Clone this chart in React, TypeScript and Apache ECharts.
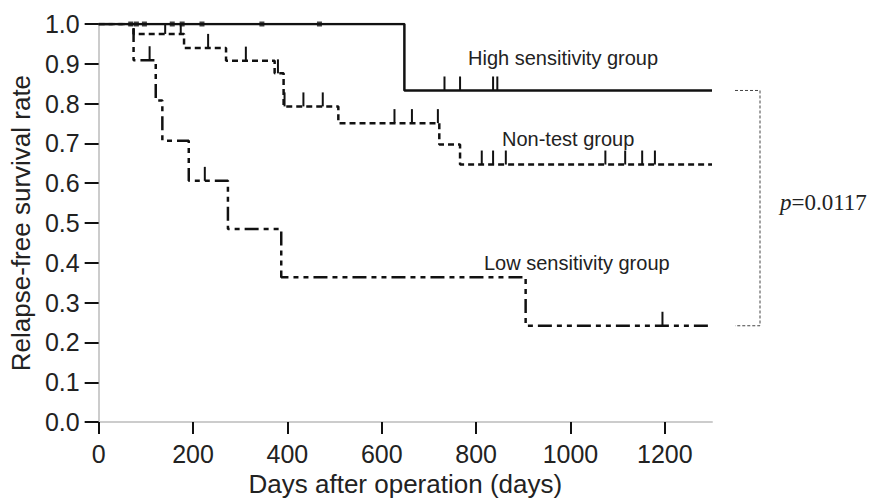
import React, { useEffect, useRef } from "react";
import * as echarts from "echarts";

// ---- data ----
const xTicks = [0, 200, 400, 600, 800, 1000, 1200];
const yTicks = [0, 0.1, 0.2, 0.3, 0.4, 0.5, 0.6, 0.7, 0.8, 0.9, 1.0];

const highTimes = [0, 648, 1300];
const highValues = [1.0, 0.833, 0.833];
const highCensor = [733, 766, 836, 845];
const highCensorTop = [68, 80, 97, 156, 177, 219, 346, 468];

const nonTimes = [0, 74, 181, 270, 373, 392, 508, 722, 766, 1300];
const nonValues = [1.0, 0.975, 0.94, 0.908, 0.876, 0.793, 0.751, 0.697, 0.647, 0.647];
const nonCensor = [141, 174, 232, 312, 380, 394, 434, 475, 627, 664, 719, 812, 836, 863, 1074, 1116, 1152, 1179];

const lowTimes = [0, 74, 121, 135, 191, 274, 387, 905, 1300];
const lowValues = [1.0, 0.909, 0.808, 0.707, 0.606, 0.485, 0.364, 0.242, 0.242];
const lowCensor = [108, 225, 1195];

const groupLabels = ["High sensitivity group", "Non-test group", "Low sensitivity group"];
const pValueText = "0.0117";

const FONT = "'Liberation Sans', Arial, sans-serif";
const SERIF = "'Liberation Serif', 'Times New Roman', serif";
const INK = "#111";

function levelAt(times: number[], vals: number[], t: number) {
  let v = vals[0];
  for (let i = 0; i < times.length; i++) if (times[i] <= t) v = vals[i];
  return v;
}

function tickSeries(times: number[], vals: number[], censor: number[]) {
  return {
    type: "custom",
    clip: true,
    data: censor.map((t) => [t, levelAt(times, vals, t)]),
    renderItem: (params: any, api: any) => {
      const p = api.coord([api.value(0), api.value(1)]);
      return {
        type: "line",
        shape: { x1: p[0], y1: p[1], x2: p[0], y2: p[1] - 14 },
        style: { stroke: INK, lineWidth: 2 },
      };
    },
    z: 3,
  };
}

export default function App() {
  const ref = useRef<HTMLDivElement>(null);
  useEffect(() => {
    if (!ref.current) return;
    const chart = echarts.init(ref.current, undefined, { renderer: "svg" });
    const option: any = {
      animation: false,
      backgroundColor: "#fff",
      grid: { left: 96, right: 159, top: 24, bottom: 79, containLabel: false },
      xAxis: {
        type: "value",
        min: 0,
        max: 1300,
        interval: 200,
        name: "Days after operation (days)",
        nameLocation: "middle",
        nameGap: 45,
        nameTextStyle: { fontFamily: FONT, fontSize: 26, color: "#222" },
        axisLine: { show: true, lineStyle: { color: "#cccccc", width: 2 } },
        axisTick: { show: true, length: 12, lineStyle: { color: INK, width: 2 }, customValues: xTicks },
        axisLabel: {
          fontFamily: FONT,
          fontSize: 25,
          color: "#222",
          margin: 19,
          customValues: xTicks,
          formatter: (v: number) => String(v),
        },
        splitLine: { show: false },
      },
      yAxis: {
        type: "value",
        min: 0,
        max: 1,
        interval: 0.1,
        name: "Relapse-free survival rate",
        nameLocation: "middle",
        nameGap: 58,
        nameRotate: 90,
        nameTextStyle: { fontFamily: FONT, fontSize: 26, color: "#222" },
        axisLine: { show: true, lineStyle: { color: "#cccccc", width: 2 } },
        axisTick: { show: true, length: 14, lineStyle: { color: INK, width: 2 }, customValues: yTicks },
        axisLabel: {
          fontFamily: FONT,
          fontSize: 25,
          color: "#222",
          margin: 19,
          customValues: yTicks,
          formatter: (v: number) => v.toFixed(1),
        },
        splitLine: { show: false },
      },
      series: [
        {
          type: "line",
          step: "end",
          data: lowTimes.map((t, i) => [t, lowValues[i]]),
          showSymbol: false,
          lineStyle: { color: INK, width: 2.5, type: [14, 5, 5, 5, 5, 5] },
          z: 2,
        },
        {
          type: "line",
          step: "end",
          data: nonTimes.map((t, i) => [t, nonValues[i]]),
          showSymbol: false,
          lineStyle: { color: INK, width: 2.5, type: [6, 4] },
          z: 2,
        },
        {
          type: "line",
          step: "end",
          data: highTimes.map((t, i) => [t, highValues[i]]),
          showSymbol: false,
          lineStyle: { color: INK, width: 2.5, type: "solid" },
          z: 4,
        },
        tickSeries(highTimes, highValues, highCensor),
        tickSeries(nonTimes, nonValues, nonCensor),
        tickSeries(lowTimes, lowValues, lowCensor),
        {
          type: "scatter",
          data: highCensorTop.map((t) => [t, 1.0]),
          symbol: "rect",
          symbolSize: [5, 5],
          itemStyle: { color: INK },
          z: 5,
        },
      ],
    };
    chart.setOption(option);

    const yTop = chart.convertToPixel({ gridIndex: 0 }, [0, highValues[highValues.length - 1]])[1];
    const yBot = chart.convertToPixel({ gridIndex: 0 }, [0, lowValues[lowValues.length - 1]])[1];
    const bx = 760;
    chart.setOption({
      graphic: [
        {
          type: "polyline",
          shape: { points: [[735, yTop], [bx, yTop], [bx, yBot], [735, yBot]] },
          style: { stroke: "#444", lineWidth: 1, lineDash: [3, 2], fill: null },
        },
        {
          type: "text",
          x: 468,
          y: 58,
          style: { text: groupLabels[0], font: `20px ${FONT}`, fill: "#222", verticalAlign: "middle" },
        },
        {
          type: "text",
          x: 502,
          y: 139,
          style: { text: groupLabels[1], font: `20px ${FONT}`, fill: "#222", verticalAlign: "middle" },
        },
        {
          type: "text",
          x: 484,
          y: 263,
          style: { text: groupLabels[2], font: `20px ${FONT}`, fill: "#222", verticalAlign: "middle" },
        },
        {
          type: "text",
          x: 780,
          y: 202,
          style: {
            text: `{i|p}{n|=${pValueText}}`,
            verticalAlign: "middle",
            rich: {
              i: { fontFamily: SERIF, fontStyle: "italic", fontSize: 23, fill: "#222" },
              n: { fontFamily: SERIF, fontSize: 23, fill: "#222" },
            },
          },
        },
      ],
    });
    return () => chart.dispose();
  }, []);
  return <div ref={ref} style={{ position: "fixed", left: 0, top: 0, width: 871, height: 502 }} />;
}
